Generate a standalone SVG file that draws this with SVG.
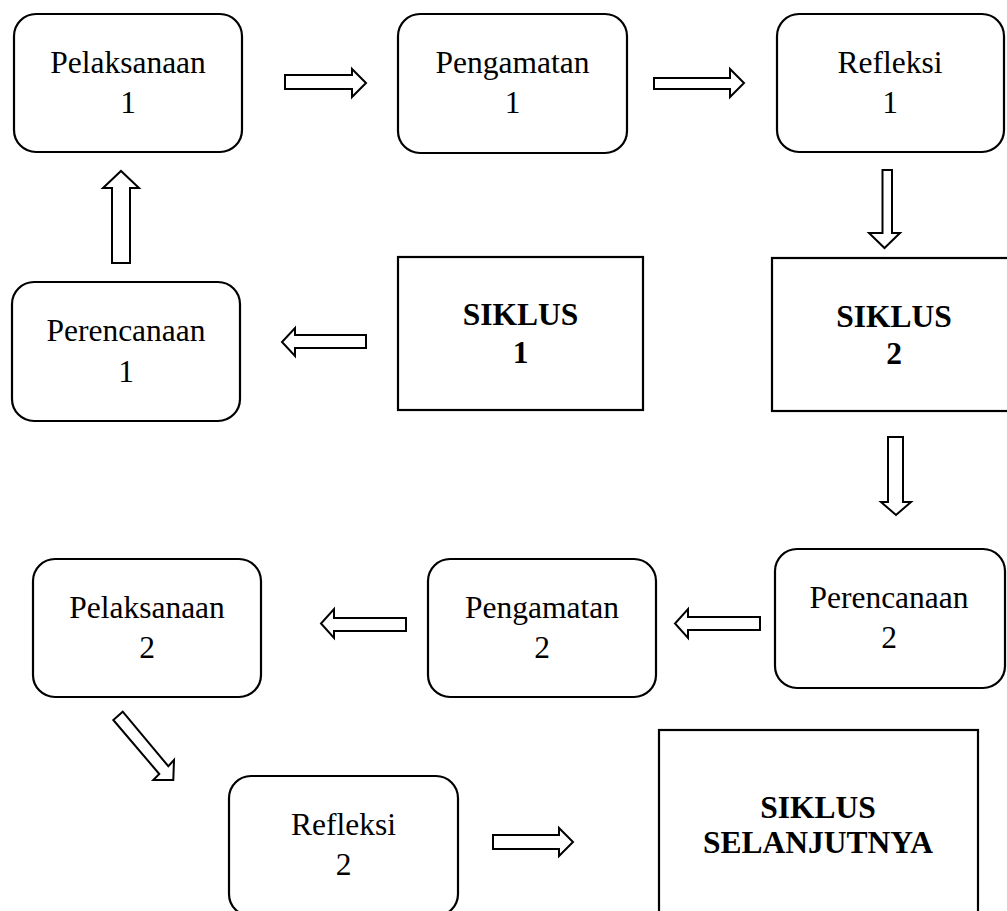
<svg xmlns="http://www.w3.org/2000/svg" width="1007" height="911" viewBox="0 0 1007 911">
<style>
.box{fill:#fff;stroke:#000;stroke-width:2.2}
.arr{fill:#fff;stroke:#000;stroke-width:2;stroke-linejoin:miter}
.t{font-family:"Liberation Serif","Times New Roman",serif;font-size:31.5px;fill:#000;text-anchor:middle}
.b{font-weight:bold}
</style>
<rect width="1007" height="911" fill="#fff"/>
<g id="connectors">
<polygon class="arr" points="285,75 352,75 352,69 366,83 352,97 352,89 285,89"/>
<polygon class="arr" points="654,78 730,78 730,69 744,83 730,97 730,89 654,89"/>
<polygon class="arr" points="882.5,170 892,170 892,233 900,233 884.5,248 869,233 882.5,233"/>
<polygon class="arr" points="366,335 295,335 295,328 282,342 295,356 295,348 366,348"/>
<polygon class="arr" points="112,263 112,188 103,188 121,171 139,188 130,188 130,263"/>
<polygon class="arr" points="888,437 903,437 903,502 911,502 896,515 881,502 888,502"/>
<polygon class="arr" points="760,617 688,617 688,609 675,623.5 688,638 688,630 760,630"/>
<polygon class="arr" points="406,618 334,618 334,609 321,623.5 334,638 334,631 406,631"/>
<polygon class="arr" points="122.7,711.7 168.3,766.2 174,760 173.3,780 153.3,780 159.3,774 113.3,720"/>
<polygon class="arr" points="493,835 559,835 559,828 573,842 559,856 559,849 493,849"/>
</g>
<g id="pelaksanaan1">
<rect class="box" x="14" y="14" width="228" height="138" rx="22"/>
<text class="t" x="128" y="73">Pelaksanaan</text>
<text class="t" x="128" y="113">1</text>
</g>
<g id="pengamatan1">
<rect class="box" x="398" y="14" width="229" height="139" rx="22"/>
<text class="t" x="512.5" y="73">Pengamatan</text>
<text class="t" x="512.5" y="113">1</text>
</g>
<g id="refleksi1">
<rect class="box" x="777" y="14" width="227" height="138" rx="22"/>
<text class="t" x="890" y="73">Refleksi</text>
<text class="t" x="890" y="113">1</text>
</g>
<g id="perencanaan1">
<rect class="box" x="12" y="282" width="228" height="139" rx="22"/>
<text class="t" x="126" y="341">Perencanaan</text>
<text class="t" x="126" y="382">1</text>
</g>
<g id="siklus1">
<rect class="box" x="398" y="257" width="245" height="153"/>
<text class="t b" x="520.5" y="325">SIKLUS</text>
<text class="t b" x="520.5" y="363">1</text>
</g>
<g id="siklus2">
<rect class="box" x="772" y="258" width="244" height="153"/>
<text class="t b" x="894" y="327">SIKLUS</text>
<text class="t b" x="894" y="364">2</text>
</g>
<g id="pelaksanaan2">
<rect class="box" x="33" y="559" width="228" height="138" rx="22"/>
<text class="t" x="147" y="618">Pelaksanaan</text>
<text class="t" x="147" y="658">2</text>
</g>
<g id="pengamatan2">
<rect class="box" x="428" y="559" width="228" height="138" rx="22"/>
<text class="t" x="542" y="618">Pengamatan</text>
<text class="t" x="542" y="658">2</text>
</g>
<g id="perencanaan2">
<rect class="box" x="775" y="549" width="230" height="139" rx="22"/>
<text class="t" x="889" y="608">Perencanaan</text>
<text class="t" x="889" y="648">2</text>
</g>
<g id="refleksi2">
<rect class="box" x="229" y="776" width="229" height="140" rx="22"/>
<text class="t" x="343.5" y="835">Refleksi</text>
<text class="t" x="343.5" y="875">2</text>
</g>
<g id="siklusSelanjutnya">
<rect class="box" x="659" y="730" width="319" height="200"/>
<text class="t b" x="818" y="818">SIKLUS</text>
<text class="t b" x="818" y="853">SELANJUTNYA</text>
</g>
</svg>
